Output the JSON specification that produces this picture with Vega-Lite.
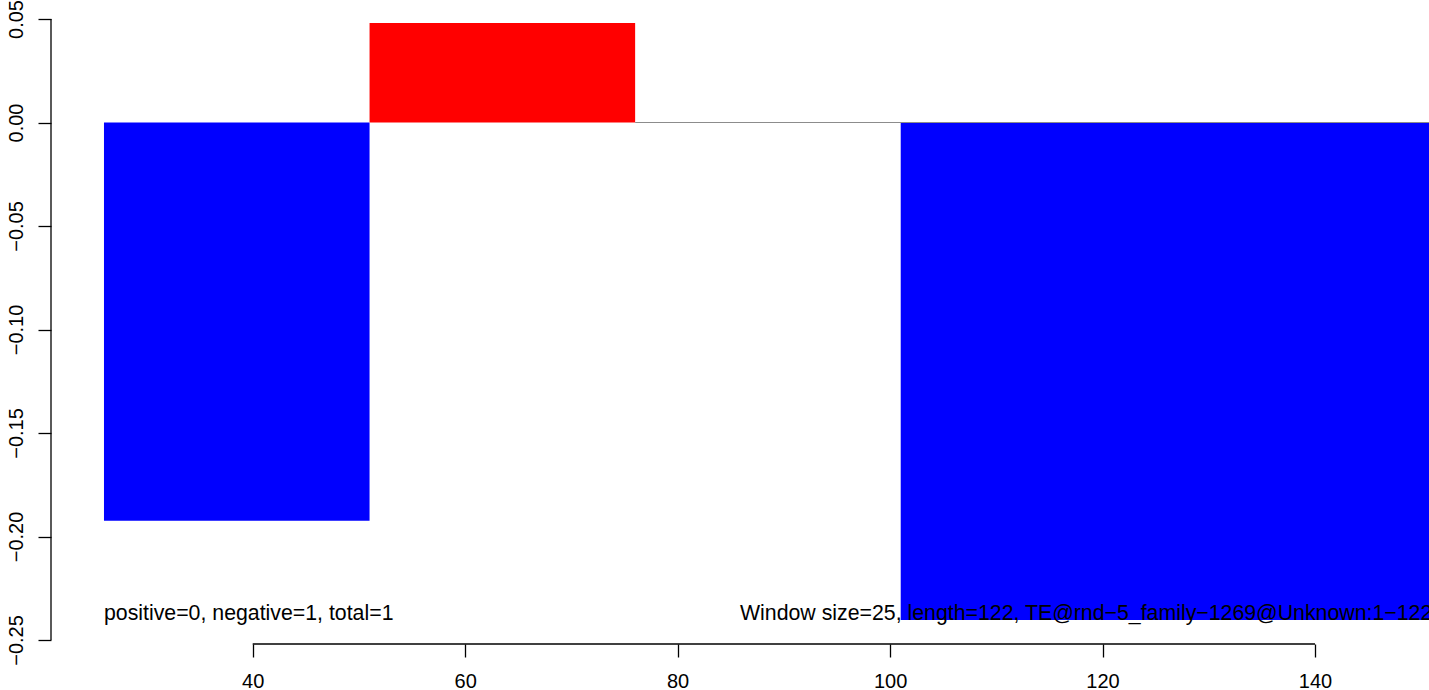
{
  "$schema": "https://vega.github.io/schema/vega-lite/v6.json",
  "width": 1378,
  "height": 644,
  "autosize": {"type": "none"},
  "padding": {"left": 51, "top": 0, "right": 0, "bottom": 46},
  "background": "white",
  "config": {
    "view": {"stroke": null},
    "font": "Liberation Sans",
    "axis": {"grid": false, "domain": false, "tickColor": "black", "tickWidth": 1.3, "tickSize": 13, "labelColor": "black", "labelFont": "Liberation Sans", "labelFontSize": 20, "title": null}
  },
  "datasets": {
    "bars": [
      {"start": 26, "end": 51, "value": -0.1924, "base": 0, "direction": "negative"},
      {"start": 51, "end": 76, "value": 0.0481, "base": 0, "direction": "positive"},
      {"start": 76, "end": 101, "value": 0, "base": 0, "direction": "zero"},
      {"start": 101, "end": 151, "value": -0.2403, "base": 0, "direction": "negative"}
    ],
    "notes": [
      {"x": 26, "y": -0.2405, "label": "positive=0, negative=1, total=1"},
      {"x": 85.87, "y": -0.2405, "label": "Window size=25, length=122, TE@rnd−5_family−1269@Unknown:1−122"}
    ],
    "zeroline": [{"from": 76, "to": 151, "y": 0}],
    "yaxisline": [{"x": 21.013, "from": -0.25, "to": 0.05}],
    "xaxisline": [{"from": 40, "to": 140, "y": -0.25193}]
  },
  "resolve": {"scale": {"x": "shared", "y": "shared"}},
  "layer": [
    {
      "data": {"name": "bars"},
      "mark": {"type": "rect", "clip": true},
      "encoding": {
        "x": {"field": "start", "type": "quantitative", "scale": {"domain": [21.013, 150.73], "nice": false, "zero": false},
          "axis": {"values": [40, 60, 80, 100, 120, 140], "labelPadding": 14, "format": "d"}},
        "x2": {"field": "end"},
        "y": {"field": "value", "type": "quantitative", "scale": {"domain": [-0.25193, 0.05918], "nice": false, "zero": false},
          "axis": {"values": [-0.25, -0.2, -0.15, -0.1, -0.05, 0, 0.05], "format": ".2f", "labelAngle": 270, "labelAlign": "center", "labelBaseline": "bottom", "labelPadding": 12}},
        "y2": {"field": "base"},
        "color": {"field": "direction", "type": "nominal", "legend": null,
          "scale": {"domain": ["positive", "negative", "zero"], "range": ["#FF0000", "#0000FF", "#FFFFFF"]}}
      }
    },
    {
      "data": {"name": "zeroline"},
      "mark": {"type": "rule", "color": "#8c8c8c", "strokeWidth": 1.2, "clip": true},
      "encoding": {"x": {"field": "from", "type": "quantitative"}, "x2": {"field": "to"}, "y": {"field": "y", "type": "quantitative"}}
    },
    {
      "data": {"name": "yaxisline"},
      "mark": {"type": "rule", "color": "black", "strokeWidth": 1.3},
      "encoding": {"x": {"field": "x", "type": "quantitative"}, "y": {"field": "from", "type": "quantitative"}, "y2": {"field": "to"}}
    },
    {
      "data": {"name": "xaxisline"},
      "mark": {"type": "rule", "color": "black", "strokeWidth": 1.3},
      "encoding": {"x": {"field": "from", "type": "quantitative"}, "x2": {"field": "to"}, "y": {"field": "y", "type": "quantitative"}}
    },
    {
      "data": {"name": "notes"},
      "mark": {"type": "text", "align": "left", "baseline": "alphabetic", "fontSize": 21.3, "font": "Liberation Sans", "color": "black"},
      "encoding": {
        "x": {"field": "x", "type": "quantitative"},
        "y": {"field": "y", "type": "quantitative"},
        "text": {"field": "label"}
      }
    }
  ]
}
